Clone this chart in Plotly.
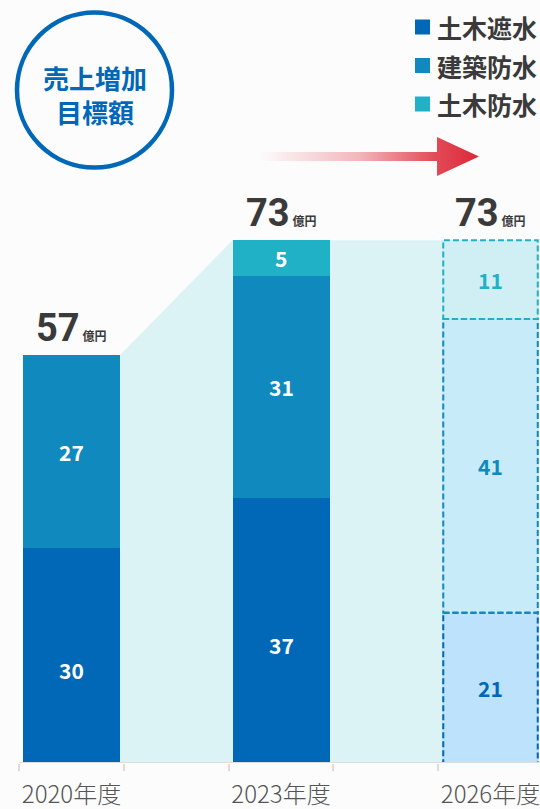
import plotly.graph_objects as go

# ---------------- data ----------------
categories = ["2020年度", "2023年度", "2026年度"]
series_names = ["土木遮水", "建築防水", "土木防水"]
doboku_shasui = [30, 37, 21]
kenchiku_bosui = [27, 31, 41]
doboku_bosui = [None, 5, 11]
unit_label = "億円"
badge_lines = ["売上増加", "目標額"]

series_values = [doboku_shasui, kenchiku_bosui, doboku_bosui]

# ---------------- styles ----------------
solid_colors = ["#0068b7", "#1089be", "#21b1c6"]
light_colors = ["#bde2fb", "#c8ebf9", "#cfeff5"]
target_index = 2          # the 2026 target bar is drawn pale and dashed
BAR_W = 0.463
BG = "#fcfcfc"
BAND = "#dbf3f5"
CJK = "Noto Sans CJK JP"

xs = list(range(len(categories)))
totals = [sum(v[i] or 0 for v in series_values) for i in xs]

fig = go.Figure()

# stacked bars
for j, (name, vals) in enumerate(zip(series_names, series_values)):
    colors = [light_colors[j] if i == target_index else solid_colors[j] for i in xs]
    fig.add_trace(go.Bar(
        x=xs, y=vals, width=BAR_W, name=name,
        marker=dict(color=colors, line=dict(width=0)),
        showlegend=False, hoverinfo="skip",
    ))

shapes = []
annotations = []

# pale band connecting the bar tops
hw = BAR_W / 2
band_pts = [(hw, 0), (hw, totals[0]), (1 - hw, totals[1]), (1 + hw, totals[1]),
            (2 - hw, totals[2]), (2 - hw, 0)]
path = "M " + " L ".join(f"{x},{y}" for x, y in band_pts) + " Z"
shapes.append(dict(type="path", path=path, xref="x", yref="y",
                   fillcolor=BAND, line=dict(width=0), layer="below"))

# value labels + dashed outlines
inset = 0.006
for i in xs:
    base = 0
    for j, vals in enumerate(series_values):
        v = vals[i]
        if not v:
            continue
        is_target = i == target_index
        annotations.append(dict(
            x=i, y=base + v / 2, xref="x", yref="y", text=str(v), showarrow=False,
            yshift=(-14 if (j == 0 and not is_target) else 0),
            font=dict(family=CJK, size=21, weight="bold",
                      color=solid_colors[j] if is_target else "white"),
        ))
        if is_target:
            shapes.append(dict(
                type="rect", xref="x", yref="y",
                x0=i - hw + inset, x1=i + hw - inset, y0=base, y1=base + v,
                line=dict(color=solid_colors[j], width=2, dash="6px,3px"),
                fillcolor="rgba(0,0,0,0)",
            ))
        base += v
    # total labels
    annotations.append(dict(
        x=i, y=totals[i], xref="x", yref="y", yanchor="bottom", showarrow=False,
        yshift=3,
        text=f"<b>{totals[i]}</b><span style='font-size:12px;font-weight:bold'> {unit_label}</span>",
        font=dict(family="Roboto, " + CJK, size=38, color="#3a3a3a"),
    ))

# baseline
shapes.append(dict(type="line", xref="x", yref="y", x0=-0.25, x1=2.4, y0=0, y1=0,
                   line=dict(color="#dcdcdc", width=2)))

# ---- decorations on a pixel-like overlay axis ----
# legend (squares + labels)
legend_rows_y = [27, 65.5, 104]
for name, col, yc in zip(series_names, solid_colors, legend_rows_y):
    shapes.append(dict(type="rect", xref="x2", yref="y2", x0=415, x1=430,
                       y0=yc - 7.5, y1=yc + 7.5, fillcolor=col, line=dict(width=0)))
    annotations.append(dict(x=435, y=yc, xref="x2", yref="y2", xanchor="left",
                            showarrow=False, text=name,
                            font=dict(family=CJK, size=25, weight="bold", color="#3a3a3a")))

# badge circle
shapes.append(dict(type="circle", xref="x2", yref="y2", x0=17, x1=172, y0=12.5, y1=167.5,
                   line=dict(color="#0068b7", width=4.5), fillcolor="rgba(0,0,0,0)"))
annotations.append(dict(
    x=94.5, y=94, xref="x2", yref="y2", showarrow=False,
    text="<br>".join(badge_lines),
    font=dict(family=CJK, size=26, weight="bold", color="#0068b7"),
))

# gradient arrow
arrow_x = [260, 437, 437, 479, 437, 437, 260, 260]
arrow_y = [152, 152, 137, 156.5, 176, 161, 161, 152]
fig.add_trace(go.Scatter(
    x=arrow_x, y=arrow_y, xaxis="x2", yaxis="y2", mode="lines",
    line=dict(width=0), fill="toself", showlegend=False, hoverinfo="skip",
    fillgradient=dict(type="horizontal", start=260, stop=479,
                      colorscale=[[0, "rgba(222,43,58,0)"], [0.45, "rgba(222,43,58,0.33)"],
                                  [0.8, "rgba(222,43,58,0.85)"], [1, "rgba(220,40,55,1)"]]),
))

fig.update_layout(
    width=540, height=809,
    margin=dict(l=0, r=0, t=0, b=46),
    paper_bgcolor=BG, plot_bgcolor=BG,
    barmode="stack", bargap=0,
    hovermode=False,
    showlegend=False,
    xaxis=dict(
        range=[-71.5 / 209.5, (540 - 71.5) / 209.5],
        tickmode="array", tickvals=xs, ticktext=categories, ticks="",
        showgrid=False, zeroline=False, showline=False,
        tickfont=dict(family=CJK, size=24, color="#555555", weight=300),
        ticklabelstandoff=15, ticklabeloverflow="allow",
        minor=dict(tickmode="array", tickvals=[-0.25, 0.25, 0.75, 1.25, 1.75, 2.25],
                   ticks="outside", ticklen=7, tickwidth=2, tickcolor="#dcdcdc", showgrid=False),
        fixedrange=True,
    ),
    yaxis=dict(range=[0, 763 / 7.16], visible=False, fixedrange=True),
    xaxis2=dict(overlaying="x", range=[0, 540], visible=False, anchor="y2", fixedrange=True),
    yaxis2=dict(overlaying="y", range=[763, 0], visible=False, anchor="x2", fixedrange=True),
    shapes=shapes,
    annotations=annotations,
)

fig.write_html("out.html", config={"displayModeBar": False},
               post_script="document.body.style.margin='0';")
